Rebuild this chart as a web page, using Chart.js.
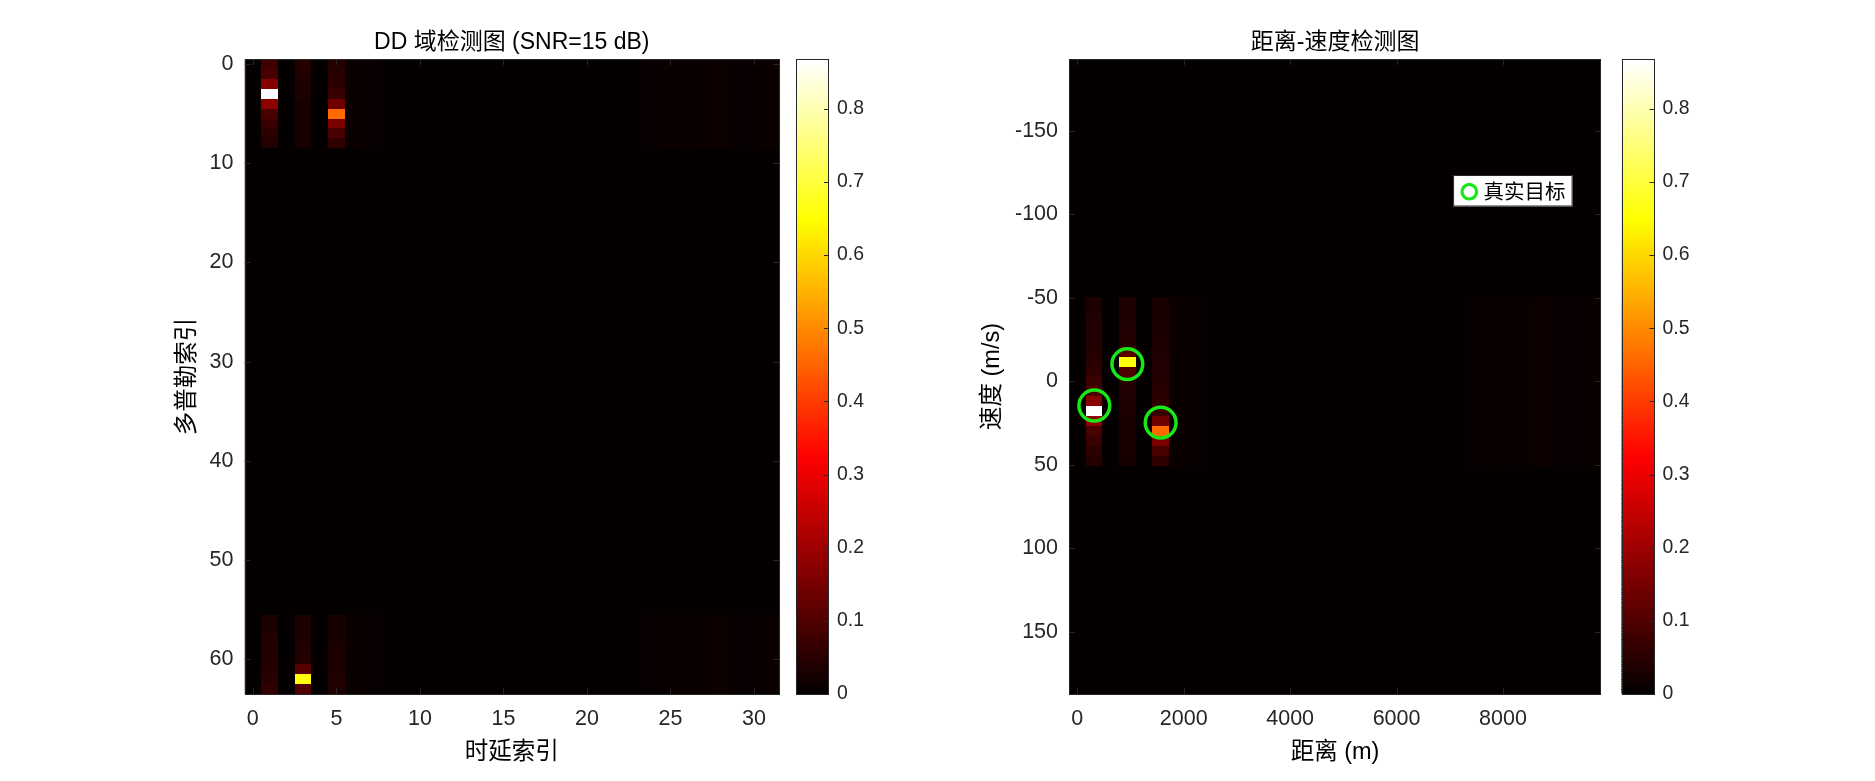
<!DOCTYPE html>
<html><head><meta charset="utf-8">
<script src="https://cdn.jsdelivr.net/npm/chart.js@4/dist/chart.umd.min.js"></script>
<style>
html,body{margin:0;padding:0;background:#fff;}
#wrap{position:relative;width:1875px;height:781px;overflow:hidden;background:#fff;}
.c{position:absolute;top:0;}
</style></head><body>
<div id="wrap">
<canvas id="dd" class="c" style="left:0px" width="790" height="781"></canvas>
<canvas id="cb1" class="c" style="left:786px" width="90" height="781"></canvas>
<canvas id="rv" class="c" style="left:800px" width="820" height="781"></canvas>
<canvas id="cb2" class="c" style="left:1612px" width="100" height="781"></canvas>
</div>
<script>
// ---------------- data ----------------
const NUM_DELAY = 32;
const NUM_DOPPLER = 64;
const rangeRes = 312.5;      // m per delay bin
const velRes = 5.94;         // m/s per Doppler bin

const ddXTicks = [0, 5, 10, 15, 20, 25, 30];
const ddYTicks = [0, 10, 20, 30, 40, 50, 60];
const rvXTicks = [0, 2000, 4000, 6000, 8000];
const rvYTicks = [-150, -100, -50, 0, 50, 100, 150];
const cbTicks = [0, 0.1, 0.2, 0.3, 0.4, 0.5, 0.6, 0.7, 0.8];
const cbTickLabels = ['0', '0.1', '0.2', '0.3', '0.4', '0.5', '0.6', '0.7', '0.8'];

// Doppler rows covered by the bright streaks (velocity index -8 .. 8)
const streakRows = [56, 57, 58, 59, 60, 61, 62, 63, 0, 1, 2, 3, 4, 5, 6, 7, 8];
const streakDelay1 = [0.035, 0.035, 0.038, 0.04, 0.042, 0.045, 0.05, 0.06, 0.075, 0.09, 0.17, 0.868, 0.18, 0.09, 0.07, 0.055, 0.045];
const streakDelay3 = [0.035, 0.035, 0.035, 0.04, 0.045, 0.11, 0.66, 0.10, 0.045, 0.04, 0.035, 0.035, 0.03, 0.03, 0.03, 0.028, 0.025];
const streakDelay5 = [0.03, 0.03, 0.03, 0.032, 0.035, 0.035, 0.04, 0.04, 0.045, 0.05, 0.055, 0.07, 0.14, 0.46, 0.155, 0.09, 0.06];
const faintDelays = [6, 7, 24, 25, 26, 27, 28, 29, 30, 31];
const faintLevels = [0.012, 0.009, 0.008, 0.013, 0.009, 0.011, 0.014, 0.01, 0.008, 0.011];
const noiseFloor = 0.004;

// true targets
const targetRange = [320, 940, 1566];
const targetVel = [14.4, -10.4, 24.7];
const targetLabel = '真实目标';

const titleLeft = 'DD 域检测图 (SNR=15 dB)';
const titleRight = '距离-速度检测图';
const xLabelLeft = '时延索引';
const yLabelLeft = '多普勒索引';
const xLabelRight = '距离 (m)';
const yLabelRight = '速度 (m/s)';

// ---------------- build grid ----------------
const grid = [];
for (let r = 0; r < NUM_DOPPLER; r++) { grid.push(new Array(NUM_DELAY).fill(noiseFloor)); }
const streakMap = [[1, streakDelay1], [3, streakDelay3], [5, streakDelay5]];
streakRows.forEach((row, i) => {
  faintDelays.forEach((d, j) => { grid[row][d] = faintLevels[j]; });
  streakMap.forEach(([d, arr]) => { grid[row][d] = arr[i]; });
});
let CMAX = 0;
grid.forEach(row => row.forEach(v => { if (v > CMAX) CMAX = v; }));

const ddCells = [], rvCells = [];
for (let r = 0; r < NUM_DOPPLER; r++) {
  for (let d = 0; d < NUM_DELAY; d++) {
    const v = grid[r][d];
    ddCells.push({x: d, y: r, w: 1, h: 1, v});
    const vi = r < NUM_DOPPLER / 2 ? r : r - NUM_DOPPLER;
    rvCells.push({x: d * rangeRes, y: vi * velRes, w: rangeRes, h: velRes, v});
  }
}

// ---------------- helpers ----------------
const FONT = "'Liberation Sans', Arial, 'Noto Sans CJK SC', sans-serif";
const TXT = '#262626';
function hotRGB(t) {
  const n = 256; let k = Math.floor(t * n); if (k > n - 1) k = n - 1; if (k < 0) k = 0;
  const r = k < 96 ? (k + 1) / 96 : 1;
  const g = k < 96 ? 0 : (k < 192 ? (k - 95) / 96 : 1);
  const b = k < 192 ? 0 : (k - 191) / 64;
  return `rgb(${Math.round(r * 255)},${Math.round(g * 255)},${Math.round(b * 255)})`;
}
function setTicks(vals) { return s => { s.ticks = vals.map(v => ({value: v})); }; }

function heatPlugin(cells, legend) {
  return {
    id: 'heat',
    beforeDatasetsDraw(chart) {
      const {ctx, chartArea: a, scales: {x, y}} = chart;
      ctx.save();
      ctx.beginPath(); ctx.rect(a.left, a.top, a.width, a.height); ctx.clip();
      ctx.fillStyle = '#000'; ctx.fillRect(a.left, a.top, a.width, a.height);
      for (const c of cells) {
        const x0 = Math.round(x.getPixelForValue(c.x - c.w / 2)), x1 = Math.round(x.getPixelForValue(c.x + c.w / 2));
        const y0 = Math.round(y.getPixelForValue(c.y - c.h / 2)), y1 = Math.round(y.getPixelForValue(c.y + c.h / 2));
        ctx.fillStyle = hotRGB(c.v / CMAX);
        ctx.fillRect(Math.min(x0, x1), Math.min(y0, y1), Math.abs(x1 - x0), Math.abs(y1 - y0));
      }
      // inward tick marks
      ctx.strokeStyle = TXT; ctx.lineWidth = 1;
      const TL = 6;
      ctx.beginPath();
      x.ticks.forEach(t => { const p = Math.round(x.getPixelForValue(t.value)) + 0.5;
        ctx.moveTo(p, a.bottom); ctx.lineTo(p, a.bottom - TL); ctx.moveTo(p, a.top); ctx.lineTo(p, a.top + TL); });
      y.ticks.forEach(t => { const p = Math.round(y.getPixelForValue(t.value)) + 0.5;
        ctx.moveTo(a.left, p); ctx.lineTo(a.left + TL, p); ctx.moveTo(a.right, p); ctx.lineTo(a.right - TL, p); });
      ctx.stroke();
      ctx.restore();
      ctx.save();
      ctx.strokeStyle = TXT; ctx.lineWidth = 1;
      ctx.strokeRect(Math.round(a.left) + 0.5, Math.round(a.top) + 0.5, Math.round(a.width) - 1, Math.round(a.height));
      ctx.restore();
    },
    afterDatasetsDraw(chart) {
      if (!legend) return;
      const {ctx, chartArea: a} = chart;
      const ds = chart.data.datasets[0];
      const bx = a.right - 148, by = a.top + 116, bw = 119.5, bh = 31.5;
      ctx.save();
      ctx.fillStyle = '#fff'; ctx.fillRect(bx, by, bw, bh);
      ctx.strokeStyle = TXT; ctx.lineWidth = 1; ctx.strokeRect(bx + 0.5, by + 0.5, bw - 1, bh - 1);
      ctx.beginPath(); ctx.arc(bx + 16.2, by + 16.7, 7.3, 0, Math.PI * 2);
      ctx.strokeStyle = ds.borderColor; ctx.lineWidth = 3.2; ctx.stroke();
      ctx.fillStyle = '#000'; ctx.font = "20.5px 'Noto Sans CJK SC', sans-serif";
      ctx.textBaseline = 'middle'; ctx.textAlign = 'left';
      ctx.fillText(ds.label, bx + 30.5, by + 16.5);
      ctx.restore();
    }
  };
}

function colorbarPlugin() {
  return {
    id: 'cbar',
    beforeDatasetsDraw(chart) {
      const {ctx, chartArea: a, scales: {y}} = chart;
      ctx.save();
      const n = 256;
      for (let k = 0; k < n; k++) {
        const y0 = y.getPixelForValue(k / n * CMAX), y1 = y.getPixelForValue((k + 1) / n * CMAX);
        ctx.fillStyle = hotRGB((k + 0.5) / n);
        ctx.fillRect(a.left, Math.floor(y1), a.width, Math.ceil(y0) - Math.floor(y1));
      }
      ctx.strokeStyle = TXT; ctx.lineWidth = 1;
      ctx.beginPath();
      y.ticks.forEach(t => { const p = Math.round(y.getPixelForValue(t.value)) + 0.5;
        ctx.moveTo(a.right, p); ctx.lineTo(a.right - 5, p); });
      ctx.stroke();
      ctx.strokeRect(Math.round(a.left) + 0.5, Math.round(a.top) + 0.5, Math.round(a.width) - 1, Math.round(a.height));
      ctx.restore();
    }
  };
}

function axisOpts(min, max, ticks, extra) {
  return Object.assign({
    type: 'linear', min, max,
    grid: {display: false, drawTicks: false},
    border: {display: false},
    afterBuildTicks: setTicks(ticks)
  }, extra);
}

function heatChart(id, cells, cfg) {
  return new Chart(document.getElementById(id), {
    type: 'scatter',
    data: {datasets: cfg.datasets || []},
    options: {
      responsive: false, animation: false, events: [],
      layout: {padding: {left: 0, right: cfg.padRight, top: 0, bottom: 0}},
      plugins: {legend: {display: false}, tooltip: {enabled: false}, title: {display: false}},
      scales: {
        xt: {
          type: 'linear', position: 'top', min: cfg.xMin, max: cfg.xMax,
          grid: {display: false, drawTicks: false}, border: {display: false},
          ticks: {display: false},
          afterFit: s => { s.height = 59; },
          title: {display: true, text: cfg.title, color: '#000', font: {family: FONT, size: 23, weight: 'normal'}, padding: {top: 28.7, bottom: 0}}
        },
        x: axisOpts(cfg.xMin, cfg.xMax, cfg.xTicks, {
          position: 'bottom',
          afterFit: s => { s.height = 87; },
          ticks: {color: TXT, font: {family: FONT, size: 21.5}, padding: 12.5, maxRotation: 0, autoSkip: false, callback: v => String(v)},
          title: {display: true, text: cfg.xLabel, color: '#000', font: {family: FONT, size: 23.5}, padding: {top: 0, bottom: 13.9}}
        }),
        y: axisOpts(cfg.yMin, cfg.yMax, cfg.yTicks, {
          reverse: true,
          afterFit: s => { s.width = cfg.yWidth; },
          ticks: {color: TXT, font: {family: FONT, size: 21.5}, padding: 11, autoSkip: false, callback: v => String(v)},
          title: {display: true, text: cfg.yLabel, color: '#000', font: {family: FONT, size: 23.5}, padding: {top: cfg.yTitlePad, bottom: 0}}
        })
      }
    },
    plugins: [heatPlugin(cells, cfg.legend)]
  });
}

function colorbar(id, padLeft, yWidth) {
  return new Chart(document.getElementById(id), {
    type: 'scatter',
    data: {datasets: []},
    options: {
      responsive: false, animation: false, events: [],
      layout: {padding: {left: padLeft, right: 0, top: 59, bottom: 87}},
      plugins: {legend: {display: false}, tooltip: {enabled: false}},
      scales: {
        x: {display: false, min: 0, max: 1},
        y: {
          type: 'linear', position: 'right', min: 0, max: CMAX,
          grid: {display: false, drawTicks: false}, border: {display: false},
          afterBuildTicks: setTicks(cbTicks),
          afterFit: s => { s.width = yWidth; },
          ticks: {color: TXT, font: {family: FONT, size: 19.4}, padding: 8, autoSkip: false,
            callback: (v) => cbTickLabels[cbTicks.indexOf(v)] ?? String(v)}
        }
      }
    },
    plugins: [colorbarPlugin()]
  });
}

heatChart('dd', ddCells, {
  title: titleLeft, xLabel: xLabelLeft, yLabel: yLabelLeft,
  xMin: -0.5, xMax: NUM_DELAY - 0.5, yMin: -0.5, yMax: NUM_DOPPLER - 0.5,
  xTicks: ddXTicks, yTicks: ddYTicks, yWidth: 244.5, padRight: 11, yTitlePad: 173.9
});
colorbar('cb1', 10, 47);

heatChart('rv', rvCells, {
  title: titleRight, xLabel: xLabelRight, yLabel: yLabelRight,
  xMin: -0.5 * rangeRes, xMax: (NUM_DELAY - 0.5) * rangeRes,
  yMin: -(NUM_DOPPLER / 2 + 0.5) * velRes, yMax: (NUM_DOPPLER / 2 - 0.5) * velRes,
  xTicks: rvXTicks, yTicks: rvYTicks, yWidth: 269, padRight: 16, yTitlePad: 178.4,
  legend: true,
  datasets: [{
    label: targetLabel,
    data: targetRange.map((r, i) => ({x: r, y: targetVel[i]})),
    pointStyle: 'circle', pointRadius: 15.4, borderWidth: 3.5,
    borderColor: 'rgb(24,232,24)', backgroundColor: 'rgba(0,0,0,0)'
  }]
});
colorbar('cb2', 9.5, 57.5);
</script>
</body></html>
